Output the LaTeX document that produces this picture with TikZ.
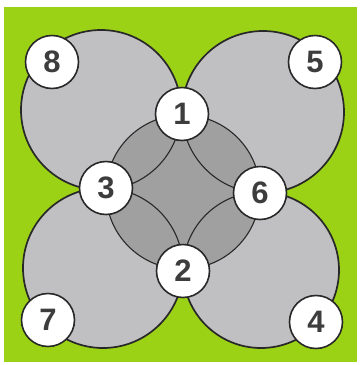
\documentclass[tikz,border=0pt]{standalone}
\usepackage{fontspec}
\setmainfont{Liberation Sans}
\definecolor{lime}{RGB}{156,210,22}
\definecolor{lobegray}{RGB}{192,192,194}
\definecolor{coregray}{RGB}{160,160,160}
\definecolor{inkgray}{RGB}{40,40,40}
\tikzset{
  lobe/.style={fill=lobegray},
  rim/.style={draw=inkgray,line width=1.7pt},
  num/.style={circle,draw=inkgray,line width=1.6pt,fill=white,minimum size=53pt,inner sep=0pt,
    font=\fontsize{31}{31}\selectfont\bfseries,text=inkgray!90}
}
\begin{document}
\begin{tikzpicture}[x=1pt,y=-1pt]
\useasboundingbox (0,0) rectangle (360,365);
\fill[white] (0,0) rectangle (360,365);
\fill[lime] (4,7) rectangle (357,362);
% four lobes
\fill[lobe] (101,110) circle (80);
\fill[lobe] (263,112) circle (81);
\fill[lobe] (103,268) circle (80);
\fill[lobe] (261,270) circle (78);
\draw[rim] (101,110) circle (80);
\draw[rim] (263,112) circle (81);
\draw[rim] (103,268) circle (80);
\draw[rim] (261,270) circle (78);
% core, with the lobe arcs thinner inside it
\fill[coregray] (183,192) circle (77);
\begin{scope}
\clip (183,192) circle (77);
\draw[rim,line width=1.1pt] (101,110) circle (80);
\draw[rim,line width=1.1pt] (263,112) circle (81);
\draw[rim,line width=1.1pt] (103,268) circle (80);
\draw[rim,line width=1.1pt] (261,270) circle (78);
\end{scope}
\draw[draw=inkgray,line width=1.1pt] (183,192) circle (77);
% numbered points
\node[num] (n1) at (182,114) {1};
\node[num] (n2) at (183,271) {2};
\node[num] (n3) at (106,188) {3};
\node[num] (n6) at (260,193) {6};
\node[num] (n8) at (52,62) {8};
\node[num] (n5) at (315,62) {5};
\node[num] (n7) at (48,320) {7};
\node[num] (n4) at (316,322) {4};
\end{tikzpicture}
\end{document}
